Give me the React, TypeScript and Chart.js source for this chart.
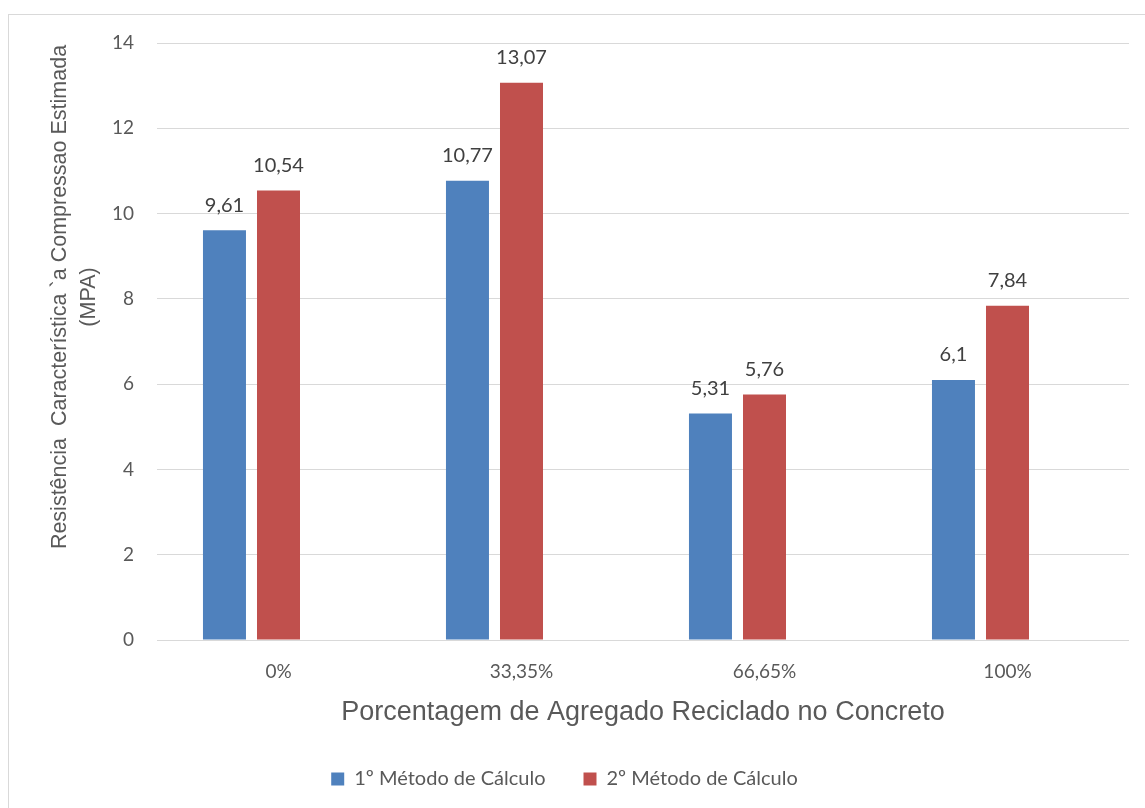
import React, { useEffect, useRef } from "react";
import { Chart, registerables } from "chart.js";

Chart.register(...registerables);

const categories = ["0%", "33,35%", "66,65%", "100%"];
const metodo1 = [9.61, 10.77, 5.31, 6.1];
const metodo2 = [10.54, 13.07, 5.76, 7.84];
const seriesNames = ["1º Método de Cálculo", "2º Método de Cálculo"];
const yTitleLines = ["Resistência  Característica `a Compressao Estimada", "(MPA)"];
const xTitle = "Porcentagem de Agregado Reciclado no Concreto";

const CANVAS_W = 1145;
const CANVAS_H = 799;

const dataLabelPlugin = {
  id: "dataLabels",
  afterDatasetsDraw(chart: any) {
    const ctx = chart.ctx;
    ctx.save();
    ctx.font = "20px Lato";
    ctx.fillStyle = "#404040";
    ctx.textAlign = "center";
    ctx.textBaseline = "middle";
    [0, 1].forEach((di) => {
      const meta = chart.getDatasetMeta(di);
      const ds = chart.data.datasets[di];
      meta.data.forEach((el: any, i: number) => {
        const v = ds.data[i];
        if (v == null) return;
        ctx.fillText(String(v).replace(".", ","), el.x, el.y - 25);
      });
    });
    ctx.restore();
  },
};

const yTitlePlugin = {
  id: "yTitle",
  afterDraw(chart: any) {
    const ctx = chart.ctx;
    ctx.save();
    ctx.font = "21.5px 'Liberation Sans', Arial";
    ctx.fillStyle = "#595959";
    ctx.textAlign = "center";
    ctx.textBaseline = "middle";
    const cy = 297;
    const xs = [60, 89];
    yTitleLines.forEach((line, i) => {
      ctx.save();
      ctx.translate(xs[i], cy);
      ctx.rotate(-Math.PI / 2);
      ctx.fillText(line, 0, 0);
      ctx.restore();
    });
    ctx.restore();
  },
};

export default function App() {
  const ref = useRef<HTMLCanvasElement | null>(null);
  useEffect(() => {
    if (!ref.current) return;
    const chart = new Chart(ref.current, {
      type: "bar",
      data: {
        labels: categories,
        datasets: [
          { label: seriesNames[0], data: metodo1, backgroundColor: "#4F81BD" },
          { label: seriesNames[1], data: metodo2, backgroundColor: "#C0504D" },
          { label: "", data: categories.map(() => null), backgroundColor: "rgba(0,0,0,0)" },
        ],
      },
      options: {
        responsive: false,
        animation: false,
        devicePixelRatio: 1,
        layout: { padding: { top: 43, left: 0, right: 16, bottom: 0 } },
        datasets: { bar: { categoryPercentage: 0.667, barPercentage: 0.796 } },
        plugins: {
          tooltip: { enabled: false },
          legend: {
            position: "bottom",
            labels: {
              boxWidth: 13,
              boxHeight: 13,
              padding: 38,
              color: "#595959",
              font: { family: "Lato", size: 20 },
              filter: (item: any) => item.datasetIndex < 2,
            },
          },
        },
        scales: {
          x: {
            grid: { display: false, drawTicks: false },
            border: { display: false },
            ticks: { color: "#595959", font: { family: "Lato", size: 19 }, padding: 20 },
            title: {
              display: true,
              text: xTitle,
              color: "#595959",
              font: { family: "'Liberation Sans', Arial", size: 27 },
              padding: 2,
            },
            afterFit: (s: any) => {
              s.height = 91;
            },
          },
          y: {
            min: 0,
            max: 14,
            ticks: { stepSize: 2, color: "#595959", font: { family: "Lato", size: 19 }, padding: 23 },
            grid: { color: "#D9D9D9", drawTicks: false, lineWidth: 1 },
            border: { display: false },
            afterFit: (s: any) => {
              s.width = 157;
            },
          },
        },
      },
      plugins: [dataLabelPlugin, yTitlePlugin],
    } as any);
    return () => chart.destroy();
  }, []);

  return (
    <div
      style={{
        position: "fixed",
        left: 0,
        top: 0,
        width: 1145,
        height: 808,
        overflow: "hidden",
        background: "#fff",
      }}
    >
      <div
        style={{
          position: "absolute",
          left: 8,
          top: 14,
          width: 1300,
          height: 1000,
          border: "1px solid #D9D9D9",
          boxSizing: "border-box",
        }}
      />
      <canvas
        ref={ref}
        width={CANVAS_W}
        height={CANVAS_H}
        style={{ position: "absolute", left: 0, top: 0, width: CANVAS_W, height: CANVAS_H }}
      />
    </div>
  );
}
